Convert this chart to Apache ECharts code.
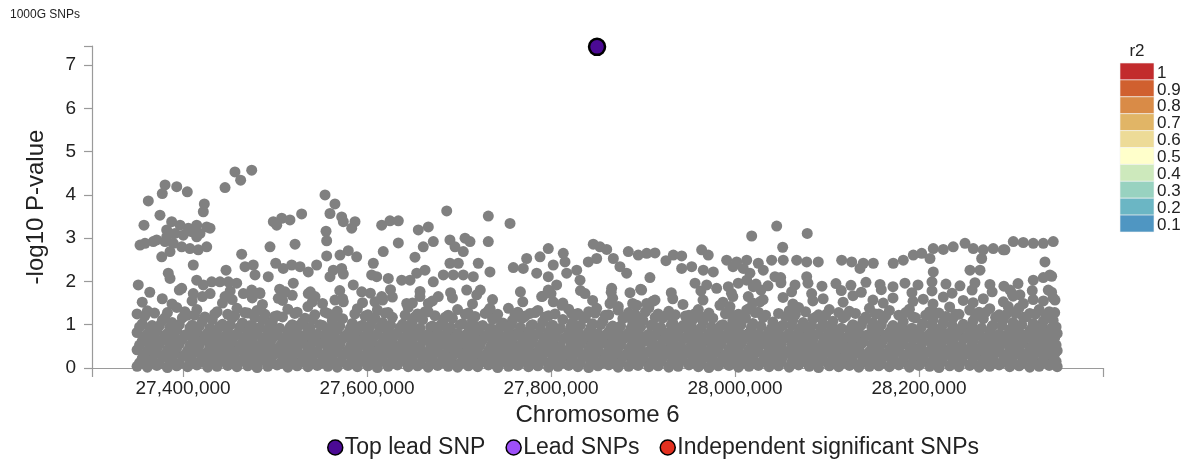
<!DOCTYPE html>
<html>
<head>
<meta charset="utf-8">
<script src="https://cdn.jsdelivr.net/npm/echarts@6/dist/echarts.min.js"></script>
<style>
html,body{margin:0;padding:0;background:#fff;}
#chart{width:1199px;height:462px;}
</style>
</head>
<body>
<div id="chart"></div>
<script>
// ---------- axis / legend text ----------
const xTickValues = [27400000, 27600000, 27800000, 28000000, 28200000];
const yTickValues = [0, 1, 2, 3, 4, 5, 6, 7];
const xMin = 27301000, xMax = 28400000, yMax = 7.44;
const r2Labels = ['1', '0.9', '0.8', '0.7', '0.6', '0.5', '0.4', '0.3', '0.2', '0.1'];
const r2Colors = ['#c22b2d', '#d0602f', '#d98b47', '#e1b566', '#eddb97', '#ffffcb', '#cde9bc', '#98d2c0', '#6bb6c4', '#4f96c2'];
const legendNames = ['Top lead SNP', 'Lead SNPs', 'Independent significant SNPs'];
const legendColors = ['#4b0a94', '#9d4ff8', '#e3301f'];

// ---------- SNP data (position bp, -log10 P) ----------
const topLead = [[27850000, 7.42]];
const leadSNPs = [];
const indepSNPs = [];

// dense low band: positions and -log10 P rows read from the blob
const posA = [27350000,27361200,27371500,27383000,27393100,27404900,27415000,27426800,27437000,27448500,
27458600,27470300,27480500,27492000,27502200,27513900,27524000,27535700,27545900,27557400,
27567600,27579200,27589500,27601000,27611200,27622900,27633000,27644700,27654900,27666400,
27676700,27688200,27698400,27710100,27720300,27731800,27742000,27753700,27763900,27775500,
27785700,27797300,27807500,27819100,27829200,27840900,27851000,27862700,27872900,27884400,
27894600,27906300,27916400,27928000,27938200,27949900,27960100,27971600,27981800,27993500,
28003700,28015200,28025400,28037000,28047300,28058900,28069100,28080600,28090800,28102500,
28112700,28124300,28134500,28146100,28156200,28167800,28178000,28189600,28199900,28211500,
28221700,28233300,28243500,28255100,28265300,28276900,28287100,28298600,28308800,28320400,
28330600,28341500,28350200];
const posB = [27355600,27366300,27377400,27388000,27399200,27409800,27421000,27431700,27442800,27453400,
27464500,27475200,27486300,27496900,27508100,27518700,27529800,27540500,27551600,27562200,
27573400,27584000,27595100,27605800,27616900,27627500,27638700,27649300,27660400,27671100,
27682200,27692800,27704000,27714600,27725700,27736400,27747500,27758100,27769300,27779900,
27791000,27801700,27812800,27823400,27834600,27845200,27856300,27867000,27878100,27888700,
27899900,27910500,27921600,27932300,27943400,27954000,27965200,27975800,27986900,27997600,
28008700,28019300,28030500,28041100,28052200,28062900,28074000,28084600,28095800,28106400,
28117500,28128200,28139300,28149900,28161100,28171700,28182800,28193500,28204600,28215200,
28226400,28237000,28248100,28258800,28269900,28280500,28291700,28302300,28313400,28324100,
28335200,28345800];
const posC = [27352700,27363800,27374300,27385600,27395900,27407500,27417800,27429400,27439800,27451200,
27461300,27473000,27483300,27494600,27505000,27516500,27526800,27538300,27548700,27560100,
27570300,27581900,27592300,27603600,27614000,27625500,27635800,27647400,27657600,27669100,
27679500,27690800,27701200,27712700,27723100,27734500,27744800,27756300,27766700,27778200,
27788400,27800000,27810300,27821800,27832000,27843500,27853800,27865400,27875600,27887100,
27897400,27908900,27919200,27930700,27941000,27952500,27962900,27974300,27984600,27996100,
28006500,28017800,28028200,28039700,28050100,28061500,28071900,28083300,28093600,28105100,
28115500,28126900,28137300,28148700,28159000,28170500,28180800,28192300,28202600,28214100,
28224500,28235900,28246300,28257700,28268100,28279500,28289900,28301300,28311600,28323100,
28333400,28344100,28349000];
const posD = [27358300,27369000,27380100,27390700,27401900,27412500,27423700,27434400,27445500,27456100,
27467200,27477900,27489000,27499600,27510800,27521400,27532500,27543200,27554300,27564900,
27576100,27586700,27597800,27608500,27619600,27630200,27641400,27652000,27663100,27673800,
27684900,27695500,27706700,27717300,27728400,27739100,27750200,27760800,27772000,27782600,
27793700,27804400,27815500,27826100,27837300,27847900,27859000,27869700,27880800,27891400,
27902600,27913200,27924300,27935000,27946100,27956700,27967900,27978500,27989600,28000300,
28011400,28022000,28033200,28043800,28054900,28065600,28076700,28087300,28098500,28109100,
28120200,28130900,28142000,28152600,28163800,28174400,28185500,28196200,28207300,28217900,
28229100,28239700,28250800,28261500,28272600,28283200,28294400,28305000,28316100,28326800,
28337900,28347500];

const rowA = [0.04,0.02,0.06,0.01,0.05,0.03,0.07,0.02,0.04,0.06,
0.03,0.05,0.01,0.04,0.07,0.02,0.05,0.03,0.06,0.04,
0.02,0.06,0.03,0.05,0.01,0.04,0.07,0.03,0.05,0.02,
0.06,0.04,0.02,0.05,0.03,0.07,0.01,0.04,0.06,0.03,
0.05,0.02,0.04,0.06,0.03,0.01,0.05,0.07,0.02,0.04,
0.06,0.03,0.05,0.02,0.04,0.07,0.03,0.01,0.05,0.06,
0.02,0.04,0.06,0.03,0.05,0.02,0.07,0.04,0.01,0.05,
0.03,0.06,0.02,0.04,0.05,0.03,0.07,0.02,0.06,0.04,
0.01,0.05,0.03,0.06,0.02,0.04,0.07,0.03,0.05,0.02,
0.04,0.06,0.03];
const rowA2 = [0.12,0.15,0.1,0.14,0.11,0.16,0.13,0.1,0.15,0.12,
0.14,0.11,0.16,0.13,0.1,0.15,0.12,0.14,0.11,0.16,
0.13,0.1,0.15,0.12,0.14,0.11,0.16,0.13,0.1,0.15,
0.12,0.14,0.11,0.16,0.13,0.1,0.15,0.12,0.14,0.11,
0.16,0.13,0.1,0.15,0.12,0.14,0.11,0.16,0.13,0.1,
0.15,0.12,0.14,0.11,0.16,0.13,0.1,0.15,0.12,0.14,
0.11,0.16,0.13,0.1,0.15,0.12,0.14,0.11,0.16,0.13,
0.1,0.15,0.12,0.14,0.11,0.16,0.13,0.1,0.15,0.12,
0.14,0.11,0.16,0.13,0.1,0.15,0.12,0.14,0.11,0.16,
0.13,0.1,0.15];
const rowB = [0.22,0.19,0.25,0.21,0.27,0.18,0.24,0.2,0.26,0.23,
0.19,0.25,0.22,0.28,0.2,0.24,0.21,0.26,0.18,0.23,
0.27,0.2,0.24,0.22,0.19,0.26,0.21,0.25,0.23,0.18,
0.24,0.27,0.2,0.22,0.25,0.19,0.23,0.26,0.21,0.24,
0.18,0.22,0.27,0.2,0.25,0.23,0.19,0.24,0.26,0.21,
0.23,0.18,0.25,0.22,0.27,0.2,0.24,0.19,0.26,0.22,
0.25,0.21,0.18,0.24,0.27,0.2,0.23,0.26,0.19,0.22,
0.24,0.27,0.21,0.18,0.25,0.23,0.2,0.26,0.22,0.19,
0.25,0.21,0.27,0.23,0.2,0.24,0.18,0.26,0.22,0.25,
0.21,0.24];
const rowB2 = [0.32,0.35,0.3,0.34,0.31,0.36,0.33,0.3,0.35,0.32,
0.34,0.31,0.36,0.33,0.3,0.35,0.32,0.34,0.31,0.36,
0.33,0.35,0.3,0.32,0.36,0.31,0.34,0.33,0.3,0.35,
0.31,0.34,0.36,0.32,0.3,0.33,0.35,0.31,0.34,0.32,
0.36,0.3,0.33,0.35,0.31,0.34,0.32,0.36,0.3,0.33,
0.35,0.31,0.34,0.32,0.36,0.3,0.33,0.35,0.31,0.34,
0.32,0.36,0.3,0.33,0.35,0.31,0.34,0.32,0.36,0.3,
0.33,0.35,0.31,0.34,0.32,0.36,0.3,0.33,0.35,0.31,
0.34,0.32,0.36,0.3,0.33,0.35,0.31,0.34,0.32,0.36,
0.3,0.33];
const rowC = [0.42,0.39,0.45,0.41,0.47,0.4,0.44,0.38,0.46,0.43,
0.4,0.45,0.42,0.48,0.39,0.44,0.41,0.46,0.38,0.43,
0.47,0.4,0.44,0.42,0.39,0.46,0.41,0.45,0.43,0.38,
0.44,0.47,0.4,0.42,0.45,0.39,0.43,0.46,0.41,0.44,
0.38,0.42,0.47,0.4,0.45,0.43,0.39,0.44,0.46,0.41,
0.43,0.38,0.45,0.42,0.47,0.4,0.44,0.39,0.46,0.42,
0.45,0.41,0.38,0.44,0.47,0.4,0.43,0.46,0.39,0.42,
0.44,0.47,0.41,0.38,0.45,0.43,0.4,0.46,0.42,0.39,
0.45,0.41,0.47,0.43,0.4,0.44,0.38,0.46,0.42,0.45,
0.41,0.44,0.4];
const rowC2 = [0.53,0.5,0.55,0.52,0.56,0.51,0.54,0.5,0.53,0.55,
0.52,0.56,0.51,0.54,0.5,0.53,0.55,0.52,0.56,0.51,
0.54,0.5,0.53,0.55,0.52,0.56,0.51,0.54,0.5,0.53,
0.55,0.52,0.56,0.51,0.54,0.5,0.53,0.55,0.52,0.56,
0.51,0.54,0.5,0.53,0.55,0.52,0.56,0.51,0.54,0.5,
0.53,0.55,0.52,0.56,0.51,0.54,0.5,0.53,0.55,0.52,
0.56,0.51,0.54,0.5,0.53,0.55,0.52,0.56,0.51,0.54,
0.5,0.53,0.55,0.52,0.56,0.51,0.54,0.5,0.53,0.55,
0.52,0.56,0.51,0.54,0.5,0.53,0.55,0.52,0.56,0.51,
0.54,0.5,0.53];
const rowD = [0.62,0.59,0.65,0.61,0.67,0.58,0.64,0.6,0.66,0.63,
0.59,0.65,0.62,0.68,0.6,0.64,0.61,0.66,0.58,0.63,
0.67,0.6,0.64,0.62,0.59,0.66,0.61,0.65,0.63,0.58,
0.64,0.67,0.6,0.62,0.65,0.59,0.63,0.66,0.61,0.64,
0.58,0.62,0.67,0.6,0.65,0.63,0.59,0.64,0.66,0.61,
0.63,0.58,0.65,0.62,0.67,0.6,0.64,0.59,0.66,0.62,
0.65,0.61,0.58,0.64,0.67,0.6,0.63,0.66,0.59,0.62,
0.64,0.67,0.61,0.58,0.65,0.63,0.6,0.66,0.62,0.59,
0.65,0.61,0.67,0.63,0.6,0.64,0.58,0.66,0.62,0.65,
0.61,0.64];
const rowD2 = [0.73,0.7,0.75,0.72,0.76,0.71,0.74,0.7,0.73,0.75,
0.72,0.76,0.71,0.74,0.7,0.73,0.75,0.72,0.76,0.71,
0.74,0.7,0.73,0.75,0.72,0.76,0.71,0.74,0.7,0.73,
0.75,0.72,0.76,0.71,0.74,0.7,0.73,0.75,0.72,0.76,
0.71,0.74,0.7,0.73,0.75,0.72,0.76,0.71,0.74,0.7,
0.73,0.75,0.72,0.76,0.71,0.74,0.7,0.73,0.75,0.72,
0.76,0.71,0.74,0.7,0.73,0.75,0.72,0.76,0.71,0.74,
0.7,0.73,0.75,0.72,0.76,0.71,0.74,0.7,0.73,0.75,
0.72,0.76,0.71,0.74,0.7,0.73,0.75,0.72,0.76,0.71,
0.74,0.7];
const rowE = [0.82,0.79,0.86,0.8,0.88,0.78,0.84,0.81,0.87,0.83,
0.79,0.85,0.82,0.89,0.8,0.84,0.81,0.86,0.78,0.83,
0.88,0.8,0.85,0.82,0.79,0.87,0.81,0.85,0.83,0.78,
0.84,0.88,0.8,0.82,0.86,0.79,0.83,0.87,0.81,0.84,
0.78,0.82,0.88,0.8,0.86,0.83,0.79,0.84,0.87,0.81,
0.83,0.78,0.86,0.82,0.88,0.8,0.84,0.79,0.87,0.82,
0.86,0.81,0.78,0.84,0.88,0.8,0.83,0.87,0.79,0.82,
0.84,0.88,0.81,0.78,0.86,0.83,0.8,0.87,0.82,0.79,
0.85,0.81,0.88,0.83,0.8,0.84,0.78,0.87,0.82,0.86,
0.81,0.84,0.8];
const rowE2 = [0.95,0.92,0.98,0.94,1.0,0.93,0.97,0.92,0.96,0.99,
0.94,0.98,0.93,0.96,0.92,0.95,0.99,0.94,1.0,0.93,
0.97,0.92,0.96,0.98,0.94,0.99,0.93,0.97,0.92,0.95,
0.98,0.94,1.0,0.93,0.96,0.92,0.95,0.99,0.94,0.98,
0.93,0.97,0.92,0.96,0.99,0.94,1.0,0.93,0.97,0.92,
0.95,0.98,0.94,0.99,0.93,0.96,0.92,0.95,0.98,0.94,
1.0,0.93,0.97,0.92,0.96,0.99,0.94,0.98,0.93,0.97,
0.92,0.95,0.99,0.94,1.0,0.93,0.96,0.92,0.95,0.98,
0.94,0.99,0.93,0.97,0.92,0.96,0.98,0.94,1.0,0.93,
0.97,0.92,0.95];
const rowF = [1.02,0.98,1.1,1.05,1.16,0.99,1.08,1.12,1.01,1.15,
1.04,0.97,1.11,1.07,1.18,1.0,1.06,1.13,0.98,1.09,
1.14,1.03,0.99,1.1,1.05,1.17,1.01,1.08,1.12,0.97,
1.06,1.15,1.02,1.09,0.98,1.13,1.04,1.1,1.16,1.0,
1.07,0.99,1.12,1.05,1.18,1.02,1.08,0.97,1.14,1.06,
1.1,1.01,1.16,1.04,0.98,1.12,1.07,1.15,1.0,1.09,
1.13,1.03,1.17,1.06,0.99,1.11,1.05,1.14,1.02,1.08,
1.16,1.0,1.1,1.04,1.13,0.98,1.07,1.18,1.03,1.11,
1.06,1.15,1.01,1.09,1.14,0.99,1.12,1.05,1.17,1.03,
1.08,1.1];
const rowF2 = [1.2,1.27,1.16,null,1.3,1.22,1.18,1.25,null,1.21,
1.28,1.17,1.24,1.19,null,1.26,1.15,1.23,1.29,1.18,
null,1.25,1.2,1.16,1.27,null,1.22,1.18,1.3,1.21,
1.17,null,1.24,1.19,1.26,1.15,null,1.23,1.2,1.28,
1.18,1.25,null,1.21,1.16,1.27,1.22,null,1.19,1.24,
1.3,1.17,null,1.23,1.2,1.26,1.18,null,1.25,1.21,
1.16,1.28,1.22,null,1.19,1.24,1.3,1.17,1.23,null,
1.2,1.26,1.18,1.25,1.21,null,1.28,1.16,1.22,1.27,
1.19,1.24,null,1.2,1.29,1.17,1.23,1.26,1.18,1.25,
1.21,1.28];
const rowG = [1.25,1.32,null,1.28,1.4,1.22,1.35,null,1.3,1.24,
1.38,1.27,1.33,null,1.21,1.36,1.29,1.42,null,1.26,
1.31,null,1.37,1.23,1.34,1.28,null,1.4,1.25,1.3,
null,1.22,1.35,1.27,null,1.32,1.24,1.38,1.29,null,
1.33,1.21,null,1.36,1.26,1.3,null,1.23,1.34,1.28,
null,1.39,1.25,1.31,null,1.22,1.35,1.27,null,1.33,
1.24,1.37,1.29,null,1.26,1.32,1.4,null,1.23,1.35,
1.28,1.31,null,1.38,1.25,1.33,1.22,1.36,null,1.3,
1.27,1.41,1.24,1.34,1.29,1.37,1.23,1.32,1.39,1.26,
1.35,1.3,null];
const rowH = [1.52,null,1.6,1.48,null,1.55,1.65,null,1.5,1.58,
null,1.62,1.47,null,1.56,1.68,null,1.53,1.49,null,
1.6,null,1.51,null,1.57,1.64,null,1.5,null,1.55,
null,1.62,null,1.48,null,1.58,null,null,1.53,null,
1.66,null,1.5,null,null,1.56,null,1.61,null,1.49,
null,1.54,null,1.6,1.47,null,1.57,null,1.52,1.65,
null,1.5,1.58,null,1.63,1.48,null,1.55,1.6,null,
1.52,1.67,null,1.57,1.5,1.62,null,1.54,1.59,1.48,
1.64,null,1.56,1.51,1.6,null,1.53,1.66,1.49,1.58,
1.55,1.62];
const rowI = [null,1.75,null,null,1.8,null,null,1.72,null,1.78,
null,null,1.74,null,1.82,null,null,1.76,null,null,
1.79,null,null,1.73,null,1.81,null,null,1.77,null,
null,1.74,null,null,1.8,null,null,null,1.76,null,
null,1.72,null,null,1.79,null,null,1.75,null,null,
1.82,null,null,1.74,null,null,1.78,null,null,1.73,
null,null,1.8,null,null,1.76,null,1.72,null,null,
1.79,null,1.75,null,1.81,null,null,1.74,null,1.78,
null,1.73,null,1.8,null,1.76,null,1.72,null,1.79,
null,1.75,null];

// scattered SNPs above the band, read point by point
const upperLeft = [
[27474600,4.57],[27456400,4.53],[27462600,4.34],[27445600,4.17],[27380400,4.23],[27393100,4.19],[27404600,4.07],[27377400,4.03],[27362200,3.86],[27423100,3.79],
[27422000,3.61],[27374900,3.53],[27357500,3.30],[27387600,3.38],[27396700,3.30],[27405700,3.23],[27414800,3.30],[27425700,3.26],[27429300,3.23],[27382200,3.19],
[27391200,3.11],[27400200,3.07],[27409400,3.15],[27418400,3.11],[27371300,2.96],[27380400,2.92],[27389400,2.88],[27398500,2.80],[27407500,2.76],[27416500,2.73],
[27425700,2.80],[27376800,2.57],[27385800,2.69],[27353200,2.84],[27358600,2.88],[27367600,2.92],[27414800,3.03],[27382200,3.03],[27411100,2.38],[27383900,2.19],
[27385800,2.07],[27351300,1.92],[27398500,1.84],[27411100,1.72],[27414800,2.03],[27422000,1.92],[27431100,1.99],[27440100,1.99],[27449200,1.99],[27458300,1.96],
[27446700,2.26],[27463700,2.63],[27467300,2.34],[27476300,2.38],[27478200,2.15],[27445600,1.65],[27465500,1.72],[27474600,1.80],[27483600,1.72],[27492600,2.11],
[27494500,2.80],[27498100,3.38],[27507200,3.46],[27516200,3.42],[27528900,3.56],[27501800,3.30],[27521700,2.86],[27500700,2.42],[27508900,2.30],[27518100,2.38],
[27527100,2.34],[27536100,2.22],[27545200,2.38],[27519800,1.96],[27510800,1.76],[27503500,1.61],[27536100,1.72],[27543400,1.65],[27554300,4.00],[27565100,3.79],
[27559700,3.57],[27572400,3.49],[27574200,3.38],[27586900,3.38],[27583300,3.23],[27555400,3.16],[27556100,2.94],[27556100,2.59],[27570600,2.61],[27579600,2.71],
[27588700,2.57],[27563300,2.26],[27572400,2.30],[27559700,2.11],[27574200,2.17],[27585000,1.92],[27594200,1.76],[27565100,1.57],[27574200,1.53],[27606800,2.42],
[27605000,2.15],[27610500,2.11],[27617600,2.69],[27623100,2.07],[27615900,3.30],[27624900,3.40],[27634000,3.40],[27634000,2.89],[27615900,1.65],[27608600,1.53],
[27637600,2.03],[27646700,2.03],[27654000,2.19],[27663000,2.26],[27652100,2.56],[27661100,2.80],[27672000,2.92],[27655700,3.19],[27666600,3.26],[27686600,3.63],
[27690100,2.96],[27695600,2.80],[27704600,2.69],[27706500,3.00],[27711900,2.92],[27690100,2.42],[27699200,2.42],[27672000,1.99],[27682900,2.15],[27693700,2.15],
[27704600,2.15],[27715500,2.11],[27731800,3.51],[27731800,2.92],[27720900,2.42],[27733600,2.22],[27708300,1.80],[27719200,1.69],[27733600,1.38],[27677400,1.65],
[27657500,1.65],[27643100,1.49],[27666600,1.49]];
const upperMid = [
[27755400,3.34],[28018100,3.05],[28045300,3.28],[27845900,2.86],[27853200,2.80],[27860500,2.74],[27797000,2.76],[27813300,2.65],[27884000,2.69],[27894800,2.61],
[27904000,2.65],[27913000,2.66],[27924900,2.48],[27932900,2.61],[27942000,2.59],[27942000,2.30],[27952900,2.34],[27963700,2.73],[27970900,2.61],[27965500,2.26],
[27976400,2.22],[27990900,2.49],[28001800,2.45],[28012700,2.49],[28025300,2.42],[28039800,2.49],[27956500,1.96],[27969200,1.92],[27980000,1.84],[27992700,1.88],
[28003500,1.96],[28012700,2.03],[28019800,1.88],[27983600,1.45],[27994500,1.42],[27925700,1.22],[27947400,1.15],[27961900,1.18],[27773500,2.53],[27788000,2.57],
[27815200,2.45],[27802400,2.38],[27827900,2.26],[27840500,2.45],[27849600,2.53],[27867700,2.53],[27874900,2.34],[27882200,2.19],[27865900,1.84],[27885800,1.74],
[27898500,1.80],[27907500,2.09],[27904000,1.49],[27913000,1.57],[27893100,1.45],[27896700,1.15],[27797000,2.11],[27806100,1.92],[27817000,2.19],[27831500,2.03],
[27836900,1.72],[27784400,2.19],[27769800,2.30],[27759000,2.32],[27797000,1.80],[27789800,1.65],[27802400,1.53],[27811600,1.45],[27822400,1.26],[27849600,1.38],
[27864100,1.49],[27873100,1.42],[27777100,1.26],[27766200,1.18],[27733600,1.36],[27997800,2.34],[28009000,2.30],[28016200,2.19],[28030700,2.26],[28043400,2.11],
[28014400,1.65],[28027100,1.53],[28012700,1.34]];
const upperRight = [
[28078500,3.11],[28051800,2.79],[28052400,2.49],[28067000,2.49],[28077900,2.45],[28090500,2.45],[28115900,2.49],[28126800,2.45],[28139400,2.42],[28150300,2.42],
[28135800,2.30],[28049600,2.09],[28077900,2.11],[28172000,2.42],[28182900,2.49],[28193800,2.61],[28202900,2.65],[28211900,2.53],[28215500,2.76],[28226400,2.74],
[28237200,2.80],[28250000,2.88],[28259000,2.76],[28269800,2.73],[28280700,2.76],[28293400,2.73],[28302500,2.92],[28313300,2.90],[28324200,2.88],[28335100,2.88],
[28345900,2.92],[28268100,2.53],[28336900,2.45],[28255400,2.26],[28266300,2.26],[28215500,2.22],[28324200,2.03],[28335100,2.09],[28344200,2.12],[28340500,1.80],
[28347800,1.57],[28340500,1.22],[28291600,2.73],[28342300,2.15],[28298900,1.80],[28309700,1.69],[28297000,1.42],
[28022800,1.94],[28035800,1.90],[28049900,1.97],[28065200,1.92],[28079300,1.96],[28094500,1.89],[28109700,1.95],[28126000,1.91],[28142300,1.98],[28157600,1.93],
[28171700,1.88],[28184700,1.96],[28198900,1.92],[28214100,1.99],[28229300,1.94],[28244500,1.90],[28260800,1.97],[28277100,1.93],[28292300,1.89],[28307600,1.95]];

// ---------- build ----------
function pairRow(pos, vals) {
  return pos.map((x, i) => [x, vals[i]]).filter(d => d[1] !== null && d[1] !== undefined);
}
const greyData = [].concat(
  pairRow(posA, rowA), pairRow(posC, rowA2), pairRow(posB, rowB), pairRow(posD, rowB2),
  pairRow(posA, rowC), pairRow(posC, rowC2), pairRow(posB, rowD), pairRow(posD, rowD2),
  pairRow(posA, rowE), pairRow(posC, rowE2), pairRow(posB, rowF), pairRow(posD, rowF2),
  pairRow(posA, rowG), pairRow(posB, rowH), pairRow(posC, rowI),
  upperLeft, upperMid, upperRight
);

const FONT = "'Liberation Sans', Arial, Helvetica, sans-serif";
const TXT = '#222';
const AXC = '#9a9a9a';

const chart = echarts.init(document.getElementById('chart'), null, {renderer: 'canvas'});

const graphicEls = [
  {type: 'text', left: 10, top: 9, style: {text: '1000G SNPs', font: '12px ' + FONT, fill: TXT}},
  {type: 'text', x: 1137, y: 51, style: {text: 'r2', font: '17px ' + FONT, fill: TXT, align: 'center', verticalAlign: 'middle'}}
];
r2Colors.forEach((c, i) => {
  graphicEls.push({type: 'rect', shape: {x: 1120, y: 63 + i * 16.9, width: 34, height: 16.9},
    style: {fill: c, stroke: '#f4f4f4', lineWidth: 0.6}});
  graphicEls.push({type: 'text', x: 1157, y: 63 + i * 16.9 + 10,
    style: {text: r2Labels[i], font: '17px ' + FONT, fill: TXT, align: 'left', verticalAlign: 'middle'}});
});

const option = {
  animation: false,
  textStyle: {fontFamily: FONT},
  grid: {left: 92, right: 96, top: 46, bottom: 94},
  legend: {
    left: 322, top: 431,
    icon: 'circle', itemWidth: 15, itemHeight: 15, itemGap: 20,
    textStyle: {fontSize: 23, color: TXT, fontFamily: FONT, padding: [0, 0, 0, -3]},
    data: legendNames.map((n, i) => ({name: n, itemStyle: {color: legendColors[i], opacity: 1, borderColor: '#000', borderWidth: 1.5}}))
  },
  xAxis: {
    type: 'value', min: xMin, max: xMax,
    axisLine: {show: true, onZero: false, lineStyle: {color: AXC, width: 1.2}},
    axisTick: {show: true, length: 9, lineStyle: {color: AXC, width: 1.2}, customValues: [xMin].concat(xTickValues, [xMax])},
    axisLabel: {customValues: xTickValues, fontSize: 19, color: TXT, margin: 11,
      formatter: v => Number(v).toLocaleString('en-US')},
    splitLine: {show: false},
    name: 'Chromosome 6', nameLocation: 'middle', nameGap: 32,
    nameTextStyle: {fontSize: 24, color: TXT}
  },
  yAxis: {
    type: 'value', min: 0, max: yMax,
    axisLine: {show: true, lineStyle: {color: AXC, width: 1.2}},
    axisTick: {show: true, length: 8, lineStyle: {color: AXC, width: 1.2}, customValues: yTickValues.concat([yMax])},
    axisLabel: {customValues: yTickValues, fontSize: 19, color: TXT, margin: 16},
    splitLine: {show: false},
    name: '-log10 P-value', nameLocation: 'middle', nameGap: 44,
    nameTextStyle: {fontSize: 24, color: TXT}
  },
  graphic: graphicEls,
  series: [
    {type: 'scatter', name: 'SNPs', data: greyData, symbolSize: 11, clip: false, silent: true,
      itemStyle: {color: '#808080', opacity: 1}, z: 2},
    {type: 'scatter', name: legendNames[0], data: topLead, symbolSize: 16, clip: false,
      itemStyle: {color: legendColors[0], opacity: 1, borderColor: '#000', borderWidth: 2.5}, z: 4},
    {type: 'scatter', name: legendNames[1], data: leadSNPs, symbolSize: 12,
      itemStyle: {color: legendColors[1], opacity: 1, borderColor: '#000', borderWidth: 1}},
    {type: 'scatter', name: legendNames[2], data: indepSNPs, symbolSize: 12,
      itemStyle: {color: legendColors[2], opacity: 1, borderColor: '#000', borderWidth: 1}}
  ]
};
chart.setOption(option);
</script>
</body>
</html>
